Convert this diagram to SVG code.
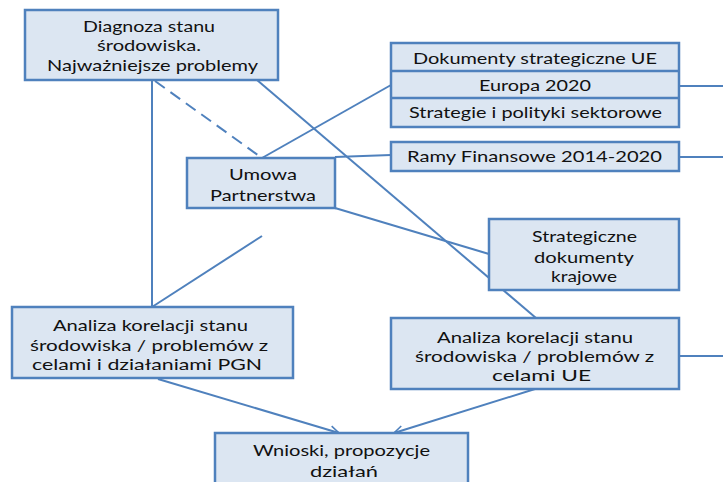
<svg xmlns="http://www.w3.org/2000/svg" width="723" height="482" viewBox="0 0 723 482">
<defs>
<marker id="arr" markerUnits="userSpaceOnUse" markerWidth="12" markerHeight="12" refX="10" refY="5" orient="auto" viewBox="0 0 12 10">
<path d="M1,0.5 L10,5 L1,9.5" fill="none" stroke="#4F81BD" stroke-width="1.6"/>
</marker>
<style>
.box{fill:#DCE6F2;stroke:#4F81BD;stroke-width:2.5}
.ln{stroke:#4F81BD;stroke-width:2;fill:none}
.dash{stroke-dasharray:12,7}
text{font-family:Lato,"Noto Sans","Liberation Sans",sans-serif;font-size:16px;fill:#111}
</style>
</defs>
<rect width="723" height="482" fill="#fff"/>
<g id="connectors">
<line class="ln" x1="152" y1="80" x2="152" y2="307"/>
<line class="ln dash" x1="155" y1="81" x2="262" y2="158"/>
<line class="ln" x1="257" y1="80" x2="536" y2="318"/>
<line class="ln" x1="262" y1="158" x2="391" y2="85"/>
<line class="ln" x1="335" y1="157" x2="391" y2="155"/>
<line class="ln" x1="335" y1="208" x2="489" y2="254"/>
<line class="ln" x1="262" y1="236" x2="152" y2="307"/>
<line class="ln" x1="679" y1="86" x2="723" y2="86"/>
<line class="ln" x1="679" y1="157" x2="723" y2="157"/>
<line class="ln" x1="679" y1="356" x2="723" y2="356"/>
<line class="ln" x1="158" y1="379" x2="339" y2="433" marker-end="url(#arr)"/>
<line class="ln" x1="535" y1="389" x2="394" y2="433" marker-end="url(#arr)"/>
</g>
<g id="diagnoza">
<rect class="box" x="25" y="10" width="253" height="70"/>
<text x="83" y="32" textLength="132" lengthAdjust="spacingAndGlyphs">Diagnoza stanu</text>
<text x="97" y="51" textLength="104" lengthAdjust="spacingAndGlyphs">środowiska.</text>
<text x="47" y="71" textLength="211" lengthAdjust="spacingAndGlyphs">Najważniejsze problemy</text>
</g>
<g id="dokumenty">
<rect class="box" x="391" y="43" width="288" height="84"/>
<line x1="391" y1="71" x2="679" y2="71" stroke="#4F81BD" stroke-width="2.5"/>
<line x1="391" y1="98" x2="679" y2="98" stroke="#4F81BD" stroke-width="2.5"/>
<text x="413" y="64" textLength="244" lengthAdjust="spacingAndGlyphs">Dokumenty strategiczne UE</text>
<text x="479" y="91" textLength="112" lengthAdjust="spacingAndGlyphs">Europa 2020</text>
<text x="409" y="118" textLength="253" lengthAdjust="spacingAndGlyphs">Strategie i polityki sektorowe</text>
</g>
<g id="ramy">
<rect class="box" x="391" y="142" width="288" height="29"/>
<text x="407" y="162" textLength="255" lengthAdjust="spacingAndGlyphs">Ramy Finansowe 2014-2020</text>
</g>
<g id="umowa">
<rect class="box" x="187" y="158" width="148" height="50"/>
<text x="229" y="180" textLength="68" lengthAdjust="spacingAndGlyphs">Umowa</text>
<text x="210" y="201" textLength="106" lengthAdjust="spacingAndGlyphs">Partnerstwa</text>
</g>
<g id="strategiczne">
<rect class="box" x="489" y="219" width="190" height="71"/>
<text x="532" y="242" textLength="105" lengthAdjust="spacingAndGlyphs">Strategiczne</text>
<text x="534" y="263" textLength="100" lengthAdjust="spacingAndGlyphs">dokumenty</text>
<text x="551" y="282" textLength="66" lengthAdjust="spacingAndGlyphs">krajowe</text>
</g>
<g id="analiza-pgn">
<rect class="box" x="12" y="307" width="281" height="71"/>
<text x="53" y="331" textLength="195" lengthAdjust="spacingAndGlyphs">Analiza korelacji stanu</text>
<text x="30" y="351" textLength="238" lengthAdjust="spacingAndGlyphs">środowiska / problemów z</text>
<text x="32" y="370" textLength="230" lengthAdjust="spacingAndGlyphs">celami i działaniami PGN</text>
</g>
<g id="analiza-ue">
<rect class="box" x="391" y="318" width="288" height="71"/>
<text x="437" y="343" textLength="196" lengthAdjust="spacingAndGlyphs">Analiza korelacji stanu</text>
<text x="415" y="362" textLength="239" lengthAdjust="spacingAndGlyphs">środowiska / problemów z</text>
<text x="492" y="381" textLength="99" lengthAdjust="spacingAndGlyphs">celami UE</text>
</g>
<g id="wnioski">
<rect class="box" x="215" y="433" width="253" height="60"/>
<text x="253" y="456" textLength="177" lengthAdjust="spacingAndGlyphs">Wnioski, propozycje</text>
<text x="310" y="477" textLength="68" lengthAdjust="spacingAndGlyphs">działań</text>
</g>
</svg>
